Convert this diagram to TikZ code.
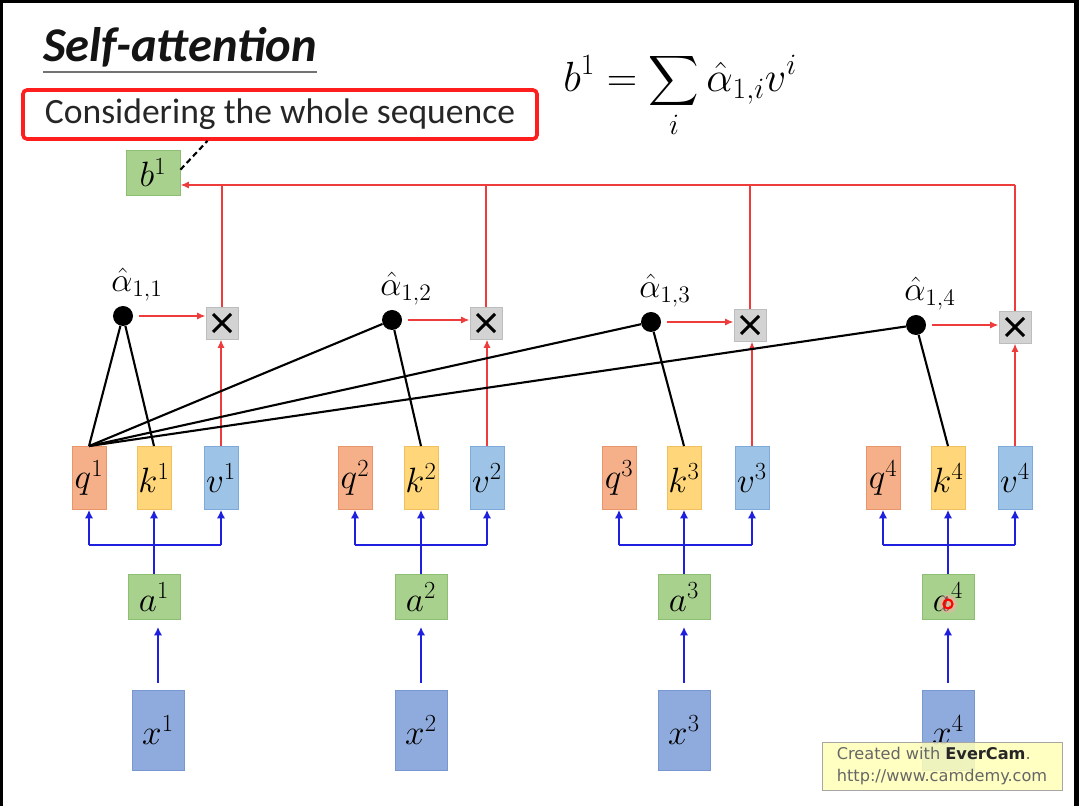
\documentclass[tikz,border=0pt]{standalone}
\usepackage{fix-cm}
\usepackage{amsmath}
\usepackage{fontspec}
\setmainfont{Carlito}
\newfontfamily\camfont{DejaVu Sans}
\usetikzlibrary{arrows.meta,calc}
\definecolor{saq}{HTML}{F5B08A}
\definecolor{saqDk}{HTML}{E8956A}
\definecolor{sak}{HTML}{FFD77A}
\definecolor{sakDk}{HTML}{F0C060}
\definecolor{sav}{HTML}{9DC3E6}
\definecolor{savDk}{HTML}{7DAADB}
\definecolor{sagreen}{HTML}{A9D18E}
\definecolor{sagreenDk}{HTML}{8EBE72}
\definecolor{sainp}{HTML}{8FAADC}
\definecolor{sainpDk}{HTML}{7896CF}
\definecolor{sagray}{HTML}{D3D3D3}
\definecolor{sagrayDk}{HTML}{BDBDBD}
\definecolor{sared}{HTML}{EE3B3B}
\definecolor{sablue}{HTML}{1F1FE0}
\definecolor{saframe}{HTML}{FF1E1E}
\definecolor{sanote}{HTML}{FFFFB8}

\begin{document}
\begin{tikzpicture}[x=0.025cm, y=-0.025cm,
    vec/.style={
      minimum width=0.85cm, minimum height=1.575cm, inner sep=0pt,
      line width=0.6pt, font=\fontsize{25}{25}\selectfont,
    },
    emb/.style={
      minimum width=1.3cm, minimum height=1.125cm, inner sep=0pt,
      draw=sagreenDk, fill=sagreen, line width=0.6pt,
      font=\fontsize{25}{25}\selectfont,
    },
    inp/.style={
      minimum width=1.3cm, minimum height=2cm, inner sep=0pt,
      draw=sainpDk, fill=sainp, line width=0.6pt,
      font=\fontsize{25}{25}\selectfont,
    },
    mul/.style={
      minimum size=0.8cm, inner sep=0pt, draw=sagrayDk, fill=sagray,
      line width=0.6pt,
      path picture={
        \draw[black, line width=2.2pt]
          ([shift={(-9,-9)}]path picture bounding box.center) --
          ([shift={(9,9)}]path picture bounding box.center)
          ([shift={(-9,9)}]path picture bounding box.center) --
          ([shift={(9,-9)}]path picture bounding box.center);
      },
    },
    wdot/.style={circle, fill=black, minimum size=0.5cm, inner sep=0pt},
    alab/.style={font=\fontsize{24}{24}\selectfont, inner sep=1pt},
    rline/.style={draw=sared, line width=1.4pt},
    rarr/.style={rline, -{Latex[length=6pt,width=5pt]}},
    bline/.style={draw=sablue, line width=2pt},
    barr/.style={bline, -{Latex[length=6pt,width=6pt]}},
    wline/.style={draw=black, line width=1.5pt},
  ]

  % ===== frame =====
  \fill[black] (0,0) rectangle (1079,806);
  \fill[white] (3,3) rectangle (1074,806);

  % ===== heading, note box, formula =====
  \node[anchor=base west, inner sep=0pt, text=black!92,
    font=\fontsize{34.5}{38}\selectfont\bfseries\itshape] (title) at (43,62) {Self-attention};
  \draw[black!55, line width=1pt] (title.west |- 0,72) -- (title.east |- 0,72);
  \node[draw=saframe, line width=2.6pt, rounded corners=3pt,
    minimum width=12.85cm, minimum height=1.225cm, text=black!85,
    font=\fontsize{25.3}{25.3}\selectfont] (ctx) at (280,114.5) {Considering the whole sequence};
  \node[anchor=base west, inner sep=0pt, font=\fontsize{30}{30}\selectfont]
    (eq) at (563,92) {$\displaystyle b^1=\sum_i\hat{\alpha}_{1,i}v^i$};

  \node[emb, minimum width=1.35cm] (b1) at (153,172.5) {$b^1$};
  \draw[wline, dash pattern=on 4pt off 2.5pt] ([yshift=2pt]b1.east)
    -- ($(ctx.south west)!0.36!(ctx.south east)$);

  % ===== one column per input =====
  \foreach \i/\qx/\kx/\vx/\dx/\dy/\mx/\my/\ax/\xx in {%
      1/89/154/221/123/316/222/323/154/158,
      2/355/421/487/392/320/486/323/421/421,
      3/619/684/752/651/322/750/325/684/684,
      4/883/948/1015/916/325/1015/327/948/948} {
    \node[inp] (x\i) at (\xx,730) {$x^\i$};
    \node[emb] (a\i) at (\ax,597) {$a^\i$};
    \node[vec, fill=saq, draw=saqDk] (q\i) at (\qx,478) {$q^\i$};
    \node[vec, fill=sak, draw=sakDk] (k\i) at (\kx,478) {$k^\i$};
    \node[vec, fill=sav, draw=savDk] (v\i) at (\vx,478) {$v^\i$};
    \node[wdot] (dot\i) at (\dx,\dy) {};
    \node[alab, anchor=south] (al\i) at ([shift={(14,-13)}]dot\i) {$\hat{\alpha}_{1,\i}$};
    \node[mul] (mul\i) at (\mx,\my) {};

    \draw[barr, shorten <=5pt, shorten >=5pt] (x\i.north) -- (x\i.north |- a\i.south);
    \draw[bline] (a\i.north) -- (a\i.north |- 0,545);
    \draw[bline] (q\i.south |- 0,545) -- (v\i.south |- 0,545);
    \foreach \nm in {q,k,v}
      \draw[barr] (\nm\i.south |- 0,545) -- (\nm\i.south);

    \draw[wline] (q1.north) -- (dot\i);
    \draw[wline] (k\i.north) -- (dot\i);
    \draw[rarr, shorten <=4pt] (dot\i) -- (dot\i -| mul\i.west);
    \draw[rarr] (v\i.north) -- (v\i.north |- mul\i.south);
    \draw[rline] (mul\i.north) -- (mul\i.north |- 0,185);
  }
  \draw[rarr] (mul4.north |- 0,185) -- (b1.east |- 0,185);

  % cursor mark of the recording
  \fill[red!35, opacity=0.5] (948,604) circle (9);
  \draw[red, line width=1.5pt] (948,604) circle (4.5);

  % ===== recorder note =====
  \node[draw=black!35, fill=sanote, fill opacity=0.85, text opacity=1,
    minimum width=6cm, minimum height=1.2cm, align=left, text=black!60,
    font=\camfont\fontsize{11.5}{15}\selectfont] (note) at (942,766)
    {Created with {\color{black!85}\bfseries EverCam}.\\http://www.camdemy.com};
\end{tikzpicture}
\end{document}
